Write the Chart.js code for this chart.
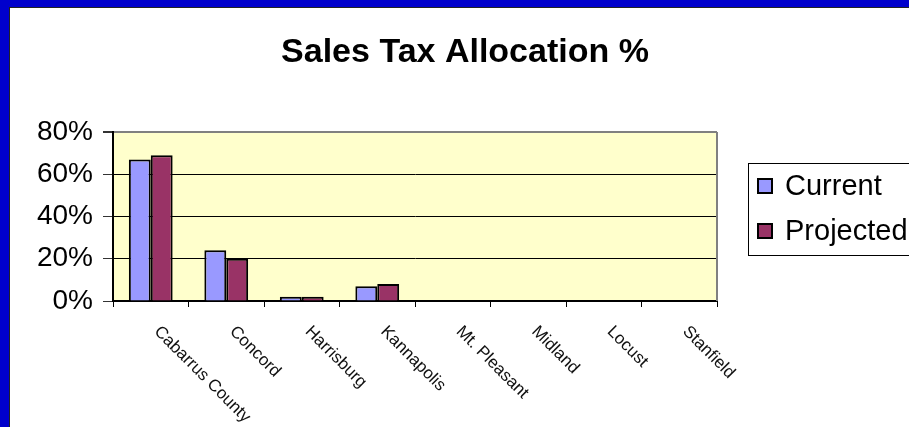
<!DOCTYPE html>
<html>
<head>
<meta charset="utf-8">
<script src="https://cdn.jsdelivr.net/npm/chart.js@4.4.0/dist/chart.umd.min.js"></script>
<style>
  html, body { margin: 0; padding: 0; background: #fff; }
  #frame { width: 909px; height: 427px; box-sizing: border-box; border-left: 9px solid #0000cc; border-top: 7px solid #0000cc; overflow: hidden; }
  #inner { width: 900px; height: 420px; box-sizing: border-box; border-left: 1px solid #222; border-top: 1px solid #222; position: relative; }
</style>
</head>
<body>
<div id="frame"><div id="inner"><canvas id="taxChart"></canvas></div></div>
<script>
const categories = ['Cabarrus County', 'Concord', 'Harrisburg', 'Kannapolis', 'Mt. Pleasant', 'Midland', 'Locust', 'Stanfield'];
const currentPct = [67, 24, 2, 7, 0, 0, 0, 0];
const projectedPct = [69, 20, 2, 8, 0, 0, 0, 0];
const yTicks = [0, 20, 40, 60, 80];

const FONT = "'Liberation Sans', Arial, sans-serif";

// yellow plot area, grey right edge, title, boxed legend and slanted town names
const decorations = {
  id: 'decorations',
  beforeDraw(chart) {
    const { ctx, chartArea: a } = chart;
    ctx.save();
    ctx.fillStyle = '#ffffcc';
    ctx.fillRect(a.left, a.top, a.right - a.left, a.bottom - a.top);
    ctx.restore();
  },
  afterDraw(chart) {
    const { ctx, chartArea: a, scales } = chart;
    ctx.save();

    ctx.strokeStyle = '#808080';
    ctx.lineWidth = 2;
    ctx.beginPath();
    ctx.moveTo(a.right, a.top);
    ctx.lineTo(a.right, a.bottom);
    ctx.stroke();

    // title
    ctx.fillStyle = '#000';
    ctx.font = `bold 34px ${FONT}`;
    ctx.textAlign = 'center';
    ctx.textBaseline = 'alphabetic';
    ctx.fillText('Sales Tax Allocation %', 455, 54);

    // town names, running down to the right
    ctx.font = `17px ${FONT}`;
    ctx.fillStyle = '#111';
    ctx.textAlign = 'left';
    ctx.textBaseline = 'middle';
    categories.forEach((name, i) => {
      ctx.save();
      ctx.translate(scales.x.getPixelForValue(i) + 6, a.bottom + 28);
      ctx.rotate(Math.PI / 4);
      ctx.fillText(name, 0, 0);
      ctx.restore();
    });

    // legend, its box runs past the right edge
    ctx.strokeStyle = '#000';
    ctx.lineWidth = 1;
    ctx.strokeRect(738.5, 155.5, 220, 92);
    ctx.font = `29px ${FONT}`;
    chart.data.datasets.forEach((ds, i) => {
      const y = 178 + i * 45;
      ctx.fillStyle = ds.backgroundColor;
      ctx.fillRect(748, y - 7, 14, 14);
      ctx.lineWidth = 2;
      ctx.strokeRect(748, y - 7, 14, 14);
      ctx.fillStyle = '#000';
      ctx.fillText(ds.label, 775, y + 1);
    });
    ctx.restore();
  }
};

new Chart(document.getElementById('taxChart'), {
  type: 'bar',
  data: {
    labels: categories,
    datasets: [
      { label: 'Current', data: currentPct, backgroundColor: '#9999ff', borderColor: '#000', borderWidth: 2 },
      { label: 'Projected', data: projectedPct, backgroundColor: '#993366', borderColor: '#000', borderWidth: 2 }
    ]
  },
  options: {
    responsive: true,
    maintainAspectRatio: false,
    animation: false,
    layout: { padding: { left: 27, right: 192, top: 124, bottom: 120 } },
    datasets: { bar: { categoryPercentage: 0.58, barPercentage: 1 } },
    plugins: {
      legend: { display: false },
      title: { display: false },
      tooltip: { enabled: false }
    },
    scales: {
      x: {
        grid: { display: true, drawOnChartArea: false, offset: true, tickLength: 6, color: '#000' },
        border: { color: '#000', width: 2 },
        ticks: { display: false }
      },
      y: {
        min: yTicks[0],
        max: yTicks[yTicks.length - 1],
        ticks: {
          stepSize: yTicks[1] - yTicks[0],
          callback: v => v + '%',
          color: '#000',
          padding: 10,
          font: { family: FONT, size: 28 }
        },
        grid: {
          color: c => (c.tick && c.tick.value === 80) ? '#808080' : '#000',
          lineWidth: c => (c.tick && c.tick.value === 80) ? 2 : 1,
          tickColor: '#333',
          tickLength: 10
        },
        border: { color: '#000', width: 2 },
        afterFit(scale) { scale.width = 76; }
      }
    }
  },
  plugins: [decorations]
});
</script>
</body>
</html>
